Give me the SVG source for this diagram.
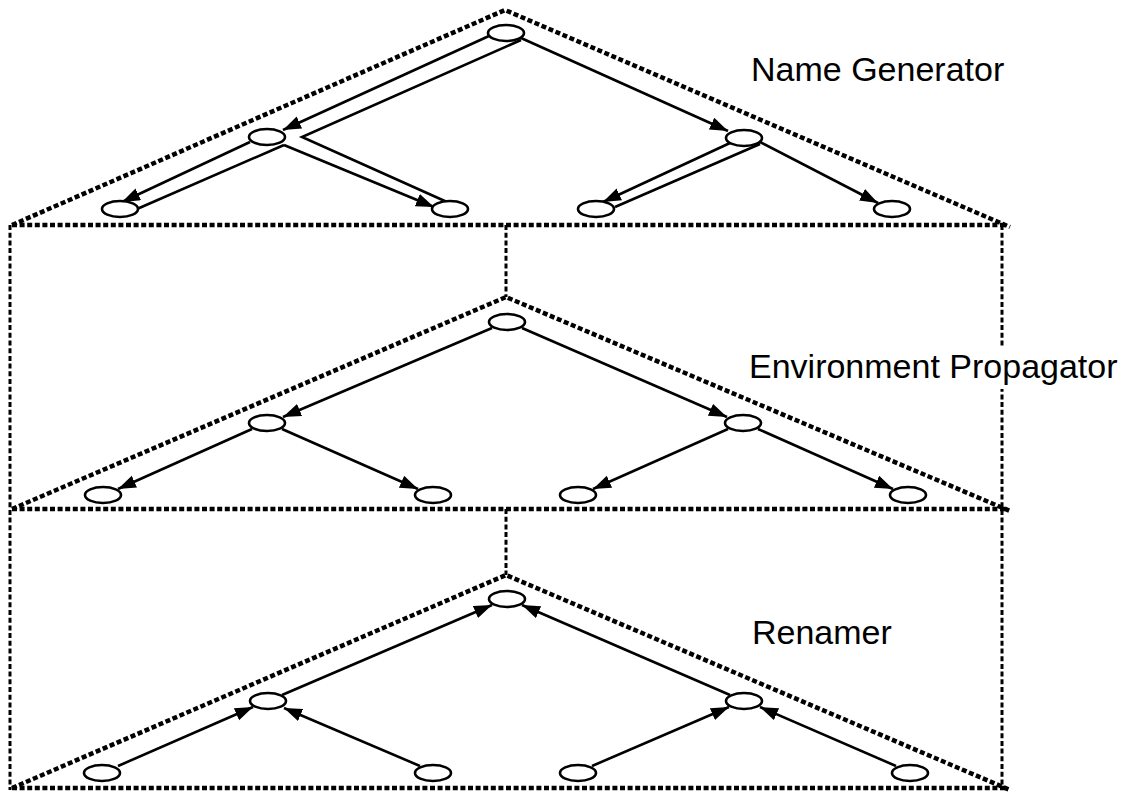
<svg xmlns="http://www.w3.org/2000/svg" width="1145" height="793" viewBox="0 0 1145 793">
  <style>
    .frame { fill: none; stroke: #000; stroke-width: 4.5; stroke-dasharray: 5 2.6; }
    .post { fill: none; stroke: #000; stroke-width: 3; stroke-dasharray: 5 2.7; }
    .node { fill: #fff; stroke: #000; stroke-width: 2.6; }
    .edge { fill: none; stroke: #000; stroke-width: 2.6; }
    .label { font-family: "Liberation Sans", Arial, sans-serif; font-size: 34px; fill: #000; }
  </style>
  <defs>
    <marker id="arrow" markerUnits="userSpaceOnUse" markerWidth="20" markerHeight="14" refX="18" refY="6.5" orient="auto">
      <path d="M0,0 L18,6.5 L0,13 z" fill="#000"/>
    </marker>
  </defs>
  <rect width="1145" height="793" fill="#fff"/>

  <!-- dotted frames: three stacked triangles with their supports -->
  <g id="frames">
    <path class="frame" d="M12,225 L505,10 L1010,227"/>
    <path class="frame" d="M12,225 L1005,225"/>
    <path class="frame" d="M12,509 L506,297 L1010,511"/>
    <path class="frame" d="M12,509 L1005,509"/>
    <path class="frame" d="M12,788 L506,575 L1010,790"/>
    <path class="frame" d="M12,788 L1005,788"/>
    <path class="post" d="M10,225 L10,790"/>
    <path class="post" d="M1002,225 L1002,790"/>
    <path class="post" d="M506,225 L506,297"/>
    <path class="post" d="M506,509 L506,575"/>
  </g>

  <!-- connectors -->
  <g id="connectors">
    <!-- Name Generator: threaded traversal -->
    <line class="edge" x1="489" y1="36" x2="283" y2="130" marker-end="url(#arrow)"/>
    <polyline class="edge" points="521,40 302,137 447,202"/>
    <line class="edge" x1="250" y1="142" x2="122" y2="202" marker-end="url(#arrow)"/>
    <line class="edge" x1="284" y1="145" x2="137" y2="209"/>
    <line class="edge" x1="284" y1="145" x2="434" y2="207" marker-end="url(#arrow)"/>
    <line class="edge" x1="521" y1="38" x2="728" y2="131" marker-end="url(#arrow)"/>
    <line class="edge" x1="730" y1="143" x2="603" y2="202" marker-end="url(#arrow)"/>
    <line class="edge" x1="760" y1="144" x2="615" y2="207"/>
    <line class="edge" x1="760" y1="142" x2="878" y2="203" marker-end="url(#arrow)"/>

    <!-- Environment Propagator: top-down -->
    <line class="edge" x1="492" y1="328" x2="283" y2="417" marker-end="url(#arrow)"/>
    <line class="edge" x1="522" y1="328" x2="727" y2="417" marker-end="url(#arrow)"/>
    <line class="edge" x1="252" y1="429" x2="118" y2="489" marker-end="url(#arrow)"/>
    <line class="edge" x1="282" y1="429" x2="418" y2="489" marker-end="url(#arrow)"/>
    <line class="edge" x1="728" y1="429" x2="593" y2="489" marker-end="url(#arrow)"/>
    <line class="edge" x1="758" y1="429" x2="893" y2="489" marker-end="url(#arrow)"/>

    <!-- Renamer: bottom-up -->
    <line class="edge" x1="118" y1="766" x2="253" y2="707" marker-end="url(#arrow)"/>
    <line class="edge" x1="420" y1="766" x2="284" y2="708" marker-end="url(#arrow)"/>
    <line class="edge" x1="282" y1="695" x2="492" y2="605" marker-end="url(#arrow)"/>
    <line class="edge" x1="592" y1="766" x2="729" y2="707" marker-end="url(#arrow)"/>
    <line class="edge" x1="896" y1="766" x2="760" y2="707" marker-end="url(#arrow)"/>
    <line class="edge" x1="730" y1="695" x2="522" y2="605" marker-end="url(#arrow)"/>
  </g>

  <!-- Name Generator tree -->
  <g id="ng-root"><ellipse class="node" cx="506" cy="33" rx="18" ry="8"/></g>
  <g id="ng-left"><ellipse class="node" cx="267" cy="137" rx="18" ry="8"/></g>
  <g id="ng-right"><ellipse class="node" cx="744" cy="138" rx="18" ry="8"/></g>
  <g id="ng-leaf1"><ellipse class="node" cx="120" cy="209" rx="18" ry="8"/></g>
  <g id="ng-leaf2"><ellipse class="node" cx="450" cy="209" rx="18" ry="8"/></g>
  <g id="ng-leaf3"><ellipse class="node" cx="596" cy="209" rx="18" ry="8"/></g>
  <g id="ng-leaf4"><ellipse class="node" cx="892" cy="209" rx="18" ry="8"/></g>

  <!-- Environment Propagator tree -->
  <g id="ep-root"><ellipse class="node" cx="507" cy="322" rx="18" ry="8"/></g>
  <g id="ep-left"><ellipse class="node" cx="267" cy="423" rx="18" ry="8"/></g>
  <g id="ep-right"><ellipse class="node" cx="743" cy="423" rx="18" ry="8"/></g>
  <g id="ep-leaf1"><ellipse class="node" cx="103" cy="495" rx="18" ry="8"/></g>
  <g id="ep-leaf2"><ellipse class="node" cx="433" cy="495" rx="18" ry="8"/></g>
  <g id="ep-leaf3"><ellipse class="node" cx="578" cy="495" rx="18" ry="8"/></g>
  <g id="ep-leaf4"><ellipse class="node" cx="908" cy="495" rx="18" ry="8"/></g>

  <!-- Renamer tree -->
  <g id="rn-root"><ellipse class="node" cx="507" cy="599" rx="18" ry="8"/></g>
  <g id="rn-left"><ellipse class="node" cx="268" cy="701" rx="18" ry="8"/></g>
  <g id="rn-right"><ellipse class="node" cx="744" cy="701" rx="18" ry="8"/></g>
  <g id="rn-leaf1"><ellipse class="node" cx="102" cy="773" rx="18" ry="8"/></g>
  <g id="rn-leaf2"><ellipse class="node" cx="433" cy="773" rx="18" ry="8"/></g>
  <g id="rn-leaf3"><ellipse class="node" cx="578" cy="773" rx="18" ry="8"/></g>
  <g id="rn-leaf4"><ellipse class="node" cx="910" cy="773" rx="18" ry="8"/></g>

  <!-- layer labels (the middle one sits on a white box over the right post) -->
  <g id="labels">
    <text class="label" x="751" y="81">Name Generator</text>
    <rect x="745" y="347" width="400" height="42" fill="#fff"/>
    <text class="label" x="749" y="378">Environment Propagator</text>
    <text class="label" x="752" y="644">Renamer</text>
  </g>
</svg>
